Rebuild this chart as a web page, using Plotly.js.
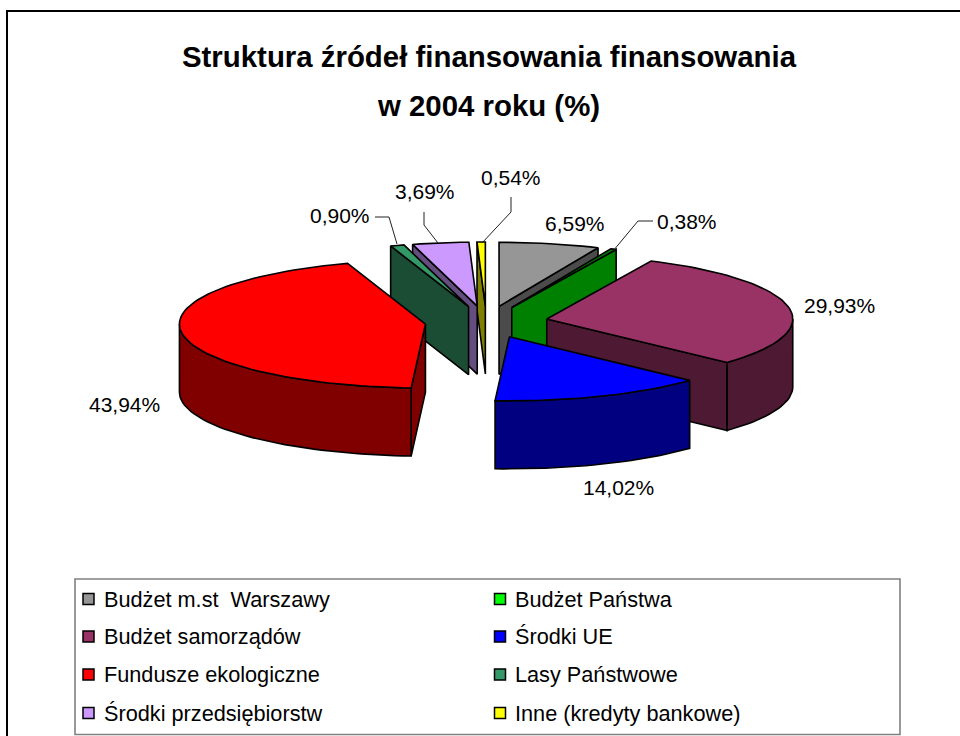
<!DOCTYPE html>
<html>
<head>
<meta charset="utf-8">
<script src="https://cdn.plot.ly/plotly-3.0.1.min.js"></script>
<style>html,body{margin:0;padding:0;background:#fff}</style>
</head>
<body>
<div id="chart" style="width:960px;height:736px"></div>
<script>
// ---- data ----
const categories = ["Budżet m.st  Warszawy","Budżet Państwa","Budżet samorządów","Środki UE","Fundusze ekologiczne","Lasy Państwowe","Środki przedsiębiorstw","Inne (kredyty bankowe)"];
const values = [6.59,0.38,29.93,14.02,43.94,0.90,3.69,0.54];
const titleLines = ["Struktura źródeł finansowania finansowania","w 2004 roku (%)"];

// ---- styling ----
const topColors  = ["#969696","#008000","#993366","#0000FF","#FF0000","#339966","#CC99FF","#FFFF00"];
const wallColors = ["#4B4B4B","#008000","#4D1933","#000080","#800000","#1A4D33","#664D80","#808000"];
const keyColors  = ["#969696","#00FF00","#993366","#0000FF","#FF0000","#339966","#CC99FF","#FFFF00"];
const drawOrder  = [0,1,2,7,6,5,4,3];
const labelSpots = [[575,223],[687,221],[839,305],[618,487],[124,404],[340,215],[425,191],[511,177]];
const FONT = '"Liberation Sans", Arial, sans-serif';

// ---- pie projection ----
const CX = 486.4, CY = 322, RX = 246, RY = 64, DEPTH = 68, EXPLODE = 0.25;
const total = values.reduce((a,b)=>a+b,0);
const rad = d => d*Math.PI/180;
let cum = 0;
const slices = values.map(v => { const s = {t0:cum/total*360, t1:(cum+v)/total*360}; cum += v; return s; });

function rimPoint(tip,t,dz){ return [tip[0]+RX*Math.sin(rad(t)), tip[1]-RY*Math.cos(rad(t))+dz]; }
function arc(tip,a,b,dz){
  const n = Math.max(2,Math.ceil((b-a)/2)), pts=[];
  for(let i=0;i<=n;i++) pts.push(rimPoint(tip,a+(b-a)*i/n,dz));
  return pts;
}
function face(pts,color,name){
  const c = pts.concat([pts[0]]);
  return {type:'scatter',mode:'lines',x:c.map(p=>p[0]),y:c.map(p=>p[1]),fill:'toself',fillcolor:color,
          line:{color:'#000',width:1.6,shape:'linear'},name:name,showlegend:false,hoverinfo:'name'};
}

const traces = [];
drawOrder.forEach(i => {
  const s = slices[i], m = (s.t0+s.t1)/2, n = categories[i];
  const tip = [CX+EXPLODE*RX*Math.sin(rad(m)), CY-EXPLODE*RY*Math.cos(rad(m))];
  const tipLow = [tip[0],tip[1]+DEPTH];
  // radial walls that face the viewer
  [[s.t0,Math.sin(rad(s.t0))<0],[s.t1,Math.sin(rad(s.t1))>0]].forEach(([t,show]) => {
    if(show) traces.push(face([tip,rimPoint(tip,t,0),rimPoint(tip,t,DEPTH),tipLow],wallColors[i],n));
  });
  // outer rim wall (front half of the cylinder)
  const a = Math.max(s.t0,90), b = Math.min(s.t1,270);
  if(b>a) traces.push(face(arc(tip,a,b,0).concat(arc(tip,a,b,DEPTH).reverse()),wallColors[i],n));
  // top face
  traces.push(face([tip].concat(arc(tip,s.t0,s.t1,0)),topColors[i],n));
});

// ---- legend key (two columns, four rows) ----
const keyCols = [88.5,500], keyTextCols = [102,513], keyRows = [599,636.5,674.5,713];
const keyX = categories.map((_,i)=>keyCols[i%2]);
const keyY = categories.map((_,i)=>keyRows[Math.floor(i/2)]);
traces.push({type:'scatter',mode:'markers',x:keyX,y:keyY,text:categories,hoverinfo:'text',showlegend:false,
  marker:{symbol:'square',size:11,color:keyColors,line:{color:'#000',width:1.5}}});

const annotations = categories.map((c,i)=>({x:keyTextCols[i%2],y:keyRows[Math.floor(i/2)],xref:'x',yref:'y',text:c.replace('  ','\u00A0 '),
  showarrow:false,xanchor:'left',yanchor:'middle',font:{family:FONT,size:21.7,color:'#000'}}));
values.forEach((v,i)=>annotations.push({x:labelSpots[i][0],y:labelSpots[i][1],xref:'x',yref:'y',
  text:v.toFixed(2).replace('.',',')+'%',showarrow:false,xanchor:'center',yanchor:'middle',
  font:{family:FONT,size:21,color:'#000'}}));

const leader = d => ({type:'path',path:d,xref:'x',yref:'y',line:{color:'#222',width:1},layer:'above'});
const shapes = [
  {type:'path',path:'M 7 736 L 7 11 L 960 11',xref:'x',yref:'y',line:{color:'#000',width:2}},
  {type:'rect',x0:75,x1:900,y0:579,y1:734.5,xref:'x',yref:'y',line:{color:'#808080',width:1.6},fillcolor:'#fff',layer:'below'},
  leader('M 375 217 L 389 217 L 397 244'),
  leader('M 653 221 L 638 221 L 613 251'),
  leader('M 511 197 L 511 212 L 482 243'),
  leader('M 424 212 L 424 225 L 438 243')
];

const TS = 'font-size:29.4px';
Plotly.newPlot('chart',traces,{
  width:960,height:736,autosize:false,showlegend:false,
  margin:{l:0,r:0,t:0,b:0,pad:0},
  paper_bgcolor:'#fff',plot_bgcolor:'#fff',
  title:{text:titleLines.map(t=>`<span style="${TS}">${t}</span>`).join('<br>'),
    x:489/960,xanchor:'center',xref:'paper',y:1-67/736,yanchor:'top',yref:'paper',
    font:{family:FONT,size:38,color:'#000',weight:700}},
  xaxis:{range:[0,960],visible:false,fixedrange:true},
  yaxis:{range:[736,0],visible:false,fixedrange:true},
  shapes:shapes,annotations:annotations
},{displayModeBar:false,staticPlot:false});
</script>
</body>
</html>
